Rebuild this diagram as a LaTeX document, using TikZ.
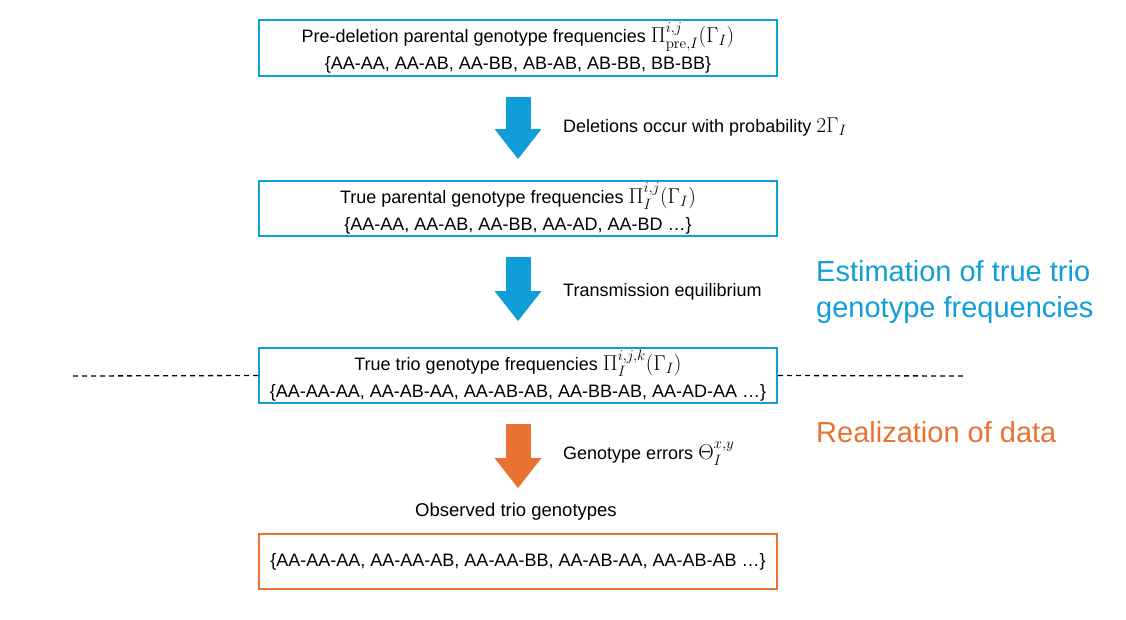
\documentclass[tikz,border=0pt]{standalone}
\usepackage{fix-cm}
\usepackage{amsmath}
\usepackage[no-math]{fontspec}
\setmainfont{Liberation Sans}
\usepackage{tikz}
\usetikzlibrary{arrows.meta}
\definecolor{accBlue}{HTML}{0F9ED5}
\definecolor{accOrange}{HTML}{E97132}
% math set a bit larger, like the Cambria Math of the original
\newcommand{\bigmth}[1]{{\fontsize{21.5}{27}\selectfont$#1$}}
\tikzstyle{freqBox} = [draw, rectangle, line width=2pt, minimum width=518pt,
   minimum height=55pt, align=center, inner sep=0pt,
   font=\fontsize{18}{27}\selectfont]
\tikzstyle{fatArrow} = [line width=25pt,
   -{Triangle[width=47pt,length=30pt,line width=0pt]}]
\tikzstyle{sideText} = [anchor=west, inner sep=0pt, font=\fontsize{18}{22}\selectfont]
\tikzstyle{bigText} = [anchor=west, inner sep=0pt, align=left, font=\fontsize{29}{36}\selectfont]
\tikzstyle{splitLine} = [line width=1.3pt, dash pattern=on 5pt off 4pt]

\begin{document}
\begin{tikzpicture}[x=1pt,y=-1pt]
  \useasboundingbox (0,0) rectangle (1126,619);

  % the four boxes
  \node[freqBox, accBlue, text=black, minimum height=56pt] (a) at (518,48)
     {Pre-deletion parental genotype frequencies \bigmth{\Pi^{i,j}_{\mathrm{pre},I}(\Gamma_I)}\\
      \{AA-AA, AA-AB, AA-BB, AB-AB, AB-BB, BB-BB\}};
  \node[freqBox, accBlue, text=black] (b) at (518,208.5)
     {True parental genotype frequencies \bigmth{\Pi^{i,j}_{I}(\Gamma_I)}\\
      \{AA-AA, AA-AB, AA-BB, AA-AD, AA-BD \dots\}};
  \node[freqBox, accBlue, text=black] (c) at (518,375.5)
     {True trio genotype frequencies \bigmth{\Pi^{i,j,k}_{I}(\Gamma_I)}\\
      \{AA-AA-AA, AA-AB-AA, AA-AB-AB, AA-BB-AB, AA-AD-AA \dots\}};
  \node[freqBox, accOrange, text=black] (d) at (518,561.5)
     {\{AA-AA-AA, AA-AA-AB, AA-AA-BB, AA-AB-AA, AA-AB-AB \dots\}};
  \node[sideText, anchor=center, font=\fontsize{18.5}{22}\selectfont] (obs) at (516,512)
     {Observed trio genotypes};

  % dashed split line
  \coordinate (dl) at (73,376);
  \coordinate (dr) at (963,376);
  \draw[splitLine] (dl) -- (c.west);
  \draw[splitLine] (c.east) -- (dr);

  % arrows
  \draw[fatArrow, accBlue, shorten <=20pt, shorten >=21pt] (a) -- (b);
  \draw[fatArrow, accBlue, shorten <=20pt, shorten >=26pt] (b) -- (c);
  \draw[fatArrow, accOrange, shorten <=20pt, shorten >=45pt] (c) -- (d);

  % arrow labels
  \node[sideText] (t1) at (563,127) {Deletions occur with probability \bigmth{2\Gamma_I}};
  \node[sideText] (t2) at (563,292) {Transmission equilibrium};
  \node[sideText] (t3) at (563,454) {Genotype errors \bigmth{\Theta^{x,y}_{I}}};

  % stage names
  \node[bigText, text=accBlue] (est) at (816,292) {Estimation of true trio\\genotype frequencies};
  \node[bigText, text=accOrange] (real) at (816,432) {Realization of data};
\end{tikzpicture}
\end{document}
